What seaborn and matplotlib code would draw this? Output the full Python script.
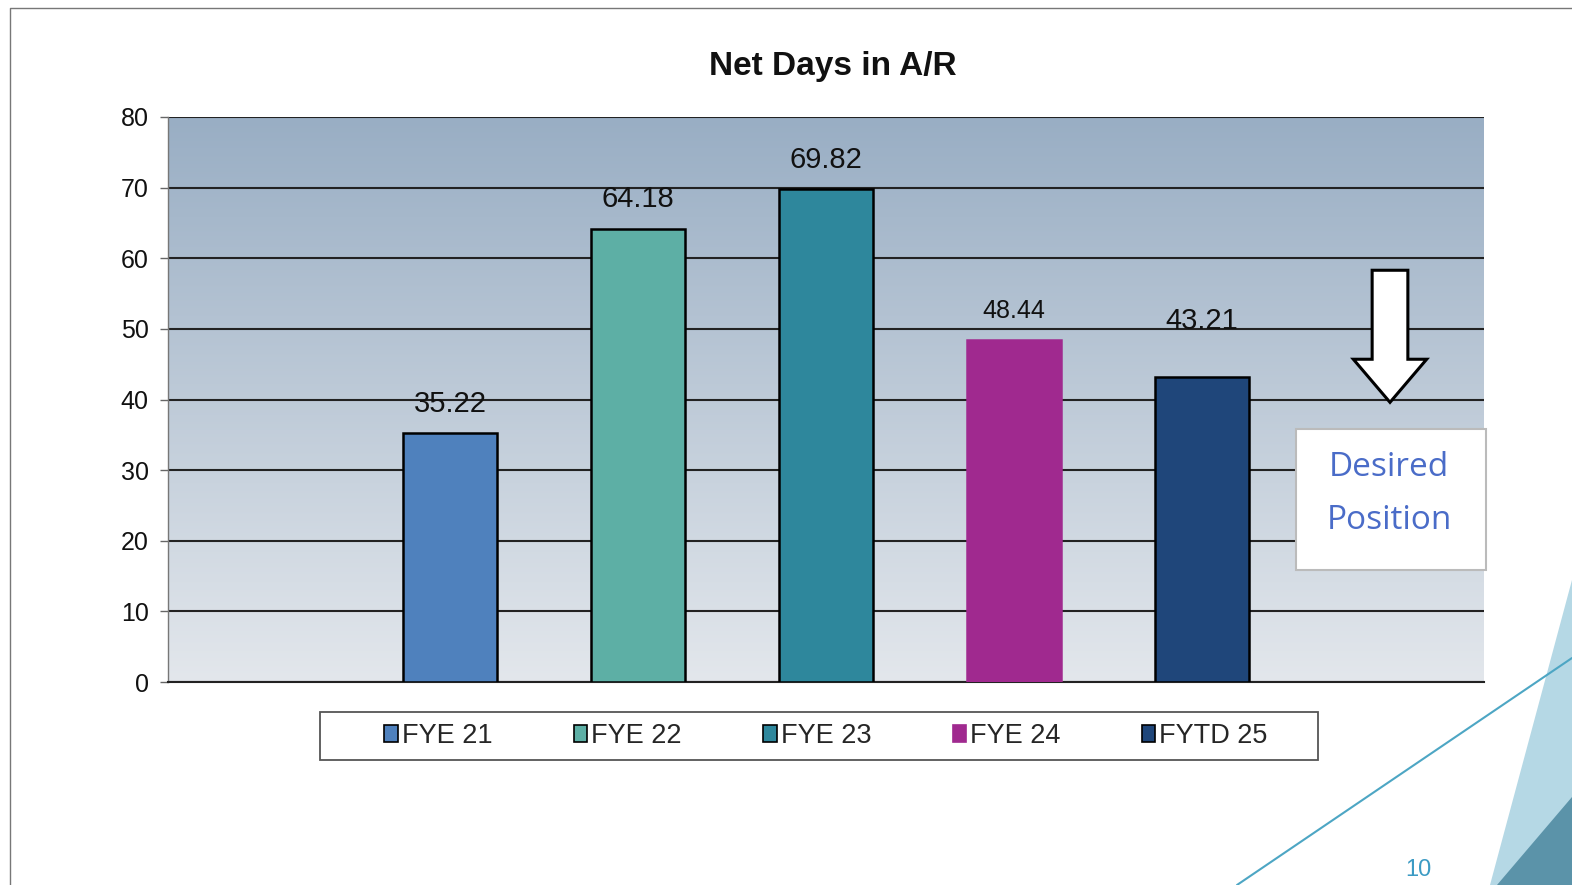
import numpy as np
import matplotlib.pyplot as plt
import matplotlib.patches as mpatches
from matplotlib.lines import Line2D
from matplotlib.colors import LinearSegmentedColormap
import seaborn as sns

# ------------------------------------------
# data
# ------------------------------------------
categories = ["FYE 21", "FYE 22", "FYE 23", "FYE 24", "FYTD 25"]
net_days = [35.22, 64.18, 69.82, 48.44, 43.21]
bar_colors = ["#4F81BD", "#5DAFA5", "#2E879C", "#A0298F", "#1F467A"]
y_ticks = [0, 10, 20, 30, 40, 50, 60, 70, 80]

sns.set_style("white")
plt.rcParams["font.family"] = ["Liberation Sans", "DejaVu Sans"]

W, H = 1572, 885
fig = plt.figure(figsize=(W / 100, H / 100), dpi=100)


def fx(px):
    return px / W


def fy(py):
    return 1 - py / H


ax = fig.add_axes([fx(168), fy(682), fx(1484) - fx(168), fy(117) - fy(682)])

# gradient plot area
grad = np.linspace(0, 1, 256).reshape(-1, 1)
cmap = LinearSegmentedColormap.from_list("bg", ["#E3E7EC", "#99AEC4"])
ax.imshow(grad, cmap=cmap, origin="lower", extent=(-1.5, 5.5, 0, 80),
          aspect="auto", zorder=0)

sns.barplot(x=categories, y=net_days, hue=categories, palette=bar_colors,
            width=0.5, legend=False, ax=ax, saturation=1,
            edgecolor="black", linewidth=1.8, zorder=3)

# FYE 24 bar has no outline
for p in ax.containers[3]:
    p.set_edgecolor(bar_colors[3])

ax.set_xlim(-1.5, 5.5)
ax.set_ylim(0, 80)
ax.set_yticks(y_ticks)
ax.set_xticks([])
ax.set_xlabel("")
ax.yaxis.grid(True, color="#222222", linewidth=1.5)
ax.set_axisbelow(True)
ax.tick_params(axis="y", left=True, length=6, width=1, color="#666666",
               labelsize=18, pad=8, labelcolor="#111111")
for s in ["top", "right"]:
    ax.spines[s].set_visible(False)
ax.spines["left"].set_color("#777777")
ax.spines["left"].set_linewidth(1)
ax.spines["bottom"].set_color("#222222")
ax.spines["bottom"].set_linewidth(1.5)

label_sizes = [21, 21, 21, 18, 21]
label_pads = [11, 11, 11, 12, 30]
for i, cont in enumerate(ax.containers):
    ax.bar_label(cont, labels=[f"{net_days[i]:.2f}"], padding=label_pads[i],
                 fontsize=label_sizes[i], color="#111111")

# "desired position" arrow
arrow = mpatches.FancyArrow(5, 58.3, 0, -18.7, width=0.19, head_width=0.39,
                            head_length=6.1, length_includes_head=True,
                            facecolor="white", edgecolor="black", lw=2.2,
                            zorder=4, clip_on=False)
ax.add_patch(arrow)

# title
fig.text(fx(833), fy(67), "Net Days in A/R", ha="center", va="center",
         fontsize=24, fontweight="bold", color="#111111")

# legend
handles = [mpatches.Patch(facecolor=c, edgecolor="black" if i != 3 else c,
                          linewidth=1.2) for i, c in enumerate(bar_colors)]
fig.legend(handles, categories, loc="center", bbox_to_anchor=(fx(826), fy(736)),
           ncol=5, frameon=False, fontsize=19.5, handlelength=0.5,
           handleheight=0.55, handletextpad=0.15, columnspacing=3.0)
fig.patches.append(mpatches.Rectangle((fx(320), fy(760)), fx(1318) - fx(320),
                                      fy(712) - fy(760), transform=fig.transFigure,
                                      fill=False, edgecolor="#555555", lw=1.3))

# desired position box
fig.patches.append(mpatches.Rectangle((fx(1296), fy(570)), fx(1486) - fx(1296),
                                      fy(429) - fy(570), transform=fig.transFigure,
                                      facecolor="white", edgecolor="#BBBBBB",
                                      lw=1.5, zorder=5))
fig.text(fx(1389), fy(494), "Desired\nPosition", ha="center", va="center",
         fontsize=24, family="Open Sans", color="#4A6CC8", linespacing=1.8,
         zorder=6)

# slide decoration
fig.lines.append(Line2D([fx(10), fx(10), fx(1572)], [fy(885), fy(8), fy(8)],
                        transform=fig.transFigure, color="#777777", lw=1))
fig.patches.append(mpatches.Polygon([(fx(1490), fy(885)), (fx(1572), fy(580)),
                                     (fx(1572), fy(885))],
                                    transform=fig.transFigure,
                                    facecolor="#B5D8E5", edgecolor="none"))
fig.patches.append(mpatches.Polygon([(fx(1497), fy(885)), (fx(1572), fy(797)),
                                     (fx(1572), fy(885))],
                                    transform=fig.transFigure,
                                    facecolor="#5B93A9", edgecolor="none"))
fig.lines.append(Line2D([fx(1237), fx(1572)], [fy(885), fy(658)],
                        transform=fig.transFigure, color="#4DA6C4", lw=1.5))
fig.text(fx(1418), fy(870), "10", ha="center", va="center", fontsize=17,
         color="#3C9BC4")

plt.savefig("out.png", dpi=100)
